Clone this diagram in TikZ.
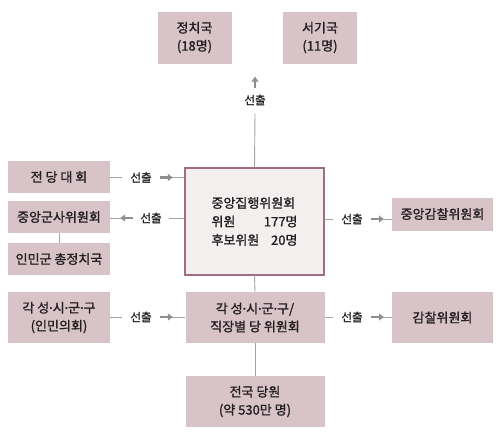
\documentclass[tikz,border=0pt]{standalone}
\usepackage{fontspec}
\setmainfont{Noto Sans CJK KR}[FakeBold=1.4]
\newfontfamily\latdot{Noto Sans}[FakeBold=1.4]
\newcommand\mdot{{\latdot ·}}
\usetikzlibrary{arrows.meta}
\definecolor{boxfill}{HTML}{D8C3C8}
\definecolor{cfill}{HTML}{F4EFEF}
\definecolor{cdraw}{HTML}{A06B86}
\definecolor{linec}{HTML}{A4A4A4}
\definecolor{arrc}{HTML}{8E8E8E}
\definecolor{txt}{HTML}{231F20}
\begin{document}
\begin{tikzpicture}[x=1pt,y=-1pt,
  box/.style={fill=boxfill, draw=none, inner sep=0pt, align=center, text=txt,
              font=\fontsize{13}{18}\selectfont},
  lbl/.style={inner sep=0pt, text=txt, font=\fontsize{11.5}{12}\selectfont},
  conn/.style={draw=linec, line width=0.9pt},
  arr/.style={draw=arrc, line width=2.2pt, -{Triangle[length=5pt,width=7pt]}},
]
\useasboundingbox (0,0) rectangle (500,434);

% boxes
\node[box, minimum width=74pt, minimum height=52pt] (pol) at (194.5,37.5) {정치국\\(18명)};
\node[box, minimum width=74pt, minimum height=52pt] (sec) at (320,37.5) {서기국\\(11명)};

\node[box, minimum width=102pt, minimum height=32pt] (jd) at (59,177) {전 당 대 회};
\node[box, minimum width=102pt, minimum height=32pt] (mil) at (59,217) {중앙군사위원회};
\node[box, minimum width=102pt, minimum height=32pt] (pa) at (59,259) {인민군 총정치국};

\node[draw=cdraw, fill=cfill, line width=1.1pt, minimum width=139pt, minimum height=107pt,
      inner sep=0pt, text=txt, font=\fontsize{13}{18.5}\selectfont,
      text width=86pt, align=left] (cc) at (254.5,221.5)
  {중앙집행위원회\\ 위원\hfill 177명\\ 후보위원\hfill 20명};

\node[box, minimum width=101pt, minimum height=33pt] (gam) at (442.5,214) {중앙감찰위원회};

\node[box, minimum width=102pt, minimum height=51pt] (lp) at (59,317.5) {각 성\mdot 시\mdot 군\mdot 구\\(인민의회)};
\node[box, minimum width=139pt, minimum height=51pt] (mid) at (255,317.5) {각 성\mdot 시\mdot 군\mdot 구/\\직장별 당 위원회};
\node[box, minimum width=101pt, minimum height=51pt] (gc) at (442.5,317.5) {감찰위원회};
\node[box, minimum width=139pt, minimum height=51pt] (all) at (255,401.5) {전국 당원\\(약 530만 명)};

% labels
\node[lbl] (st) at (255,100) {선출};
\node[lbl] (s1) at (141,177.5) {선출};
\node[lbl] (s2) at (151,218) {선출};
\node[lbl] (s3) at (352,219) {선출};
\node[lbl] (s4) at (141,317) {선출};
\node[lbl] (s5) at (352,317) {선출};

% top
\draw[conn] (cc.north) -- ([yshift=-8pt]st.south);
\draw[arr] ([yshift=7pt]st.north) -- ++(0,-11);

% row 1
\draw[conn] (jd.east |- s1) -- ([xshift=-8pt]s1.west);
\draw[conn] ([xshift=8pt]s1.east) -- (cc.west |- s1);
\draw[arr] ([xshift=8pt]s1.east) -- ++(13,0);

% row 2 left
\draw[conn] (cc.west |- s2) -- ([xshift=7pt]s2.east);
\draw[conn] ([xshift=-7pt]s2.west) -- (mil.east |- s2);
\draw[arr] ([xshift=-7pt]s2.west) -- ++(-13,0);

% row 2 right
\draw[conn] (cc.east |- s3) -- ([xshift=-8pt]s3.west);
\draw[conn] ([xshift=8pt]s3.east) -- (gam.west |- s3);
\draw[arr] ([xshift=8pt]s3.east) -- ++(13,0);

% bottom row
\draw[conn] (lp.east |- s4) -- ([xshift=-8pt]s4.west);
\draw[conn] ([xshift=8pt]s4.east) -- (mid.west |- s4);
\draw[arr] ([xshift=8pt]s4.east) -- ++(13,0);

\draw[conn] (mid.east |- s5) -- ([xshift=-8pt]s5.west);
\draw[conn] ([xshift=8pt]s5.east) -- (gc.west |- s5);
\draw[arr] ([xshift=8pt]s5.east) -- ++(13,0);

% verticals
\draw[conn] (mil.south) -- (pa.north);
\draw[conn] (cc.south) -- (mid.north);
\draw[conn] (mid.south) -- (all.north);
\end{tikzpicture}
\end{document}
